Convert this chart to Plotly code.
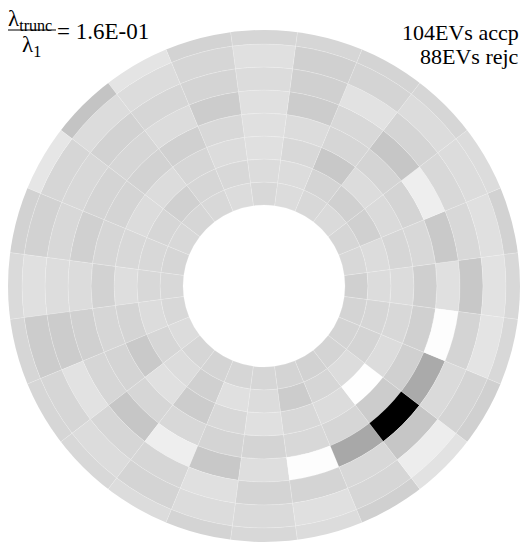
import plotly.graph_objects as go

# ---- data: gray intensity (0 = black, 255 = white) per cell, 24 sectors per ring ----
sector_deg = [j * 15 for j in range(24)]
ring_inner = [81, 104, 127, 150, 173, 196, 219, 242]
ring_width = 23

ring0 = [208, 216, 214, 218, 216, 220, 216, 220, 216, 214, 216, 214, 216, 216, 220, 214, 212, 214, 214, 212, 210, 212, 212, 212]
ring1 = [220, 220, 208, 208, 212, 220, 220, 216, 214, 208, 214, 216, 216, 220, 214, 220, 208, 224, 220, 204, 214, 220, 212, 214]
ring2 = [220, 214, 218, 220, 200, 216, 224, 220, 214, 220, 220, 216, 222, 212, 201, 224, 204, 216, 224, 216, 220, 254, 220, 216]
ring3 = [207, 216, 212, 212, 214, 220, 224, 216, 208, 210, 212, 214, 210, 214, 212, 214, 216, 212, 212, 216, 214, 204, 208, 208]
ring4 = [224, 201, 238, 198, 216, 204, 224, 204, 220, 214, 212, 208, 220, 208, 214, 198, 238, 200, 222, 253, 168, 0, 170, 253]
ring5 = [200, 216, 216, 212, 226, 208, 220, 212, 214, 210, 216, 216, 221, 204, 226, 214, 214, 224, 212, 212, 216, 198, 218, 212]
ring6 = [226, 224, 220, 220, 212, 208, 224, 214, 220, 220, 214, 210, 224, 204, 214, 220, 212, 220, 218, 224, 214, 237, 212, 228]
ring7 = [216, 210, 220, 214, 212, 214, 214, 211, 228, 196, 230, 210, 218, 214, 214, 216, 220, 212, 216, 220, 208, 226, 208, 216]
rings = [ring0, ring1, ring2, ring3, ring4, ring5, ring6, ring7]

label_ratio = "1.6E-01"
label_acc = "104EVs accp"
label_rej = "88EVs rejc"

fig = go.Figure()
for base, vals in zip(ring_inner, rings):
    fig.add_trace(go.Barpolar(
        r=[ring_width] * len(vals),
        base=[base] * len(vals),
        theta=sector_deg,
        width=[15] * len(vals),
        marker=dict(
            color=vals,
            colorscale=[[0, "rgb(0,0,0)"], [1, "rgb(255,255,255)"]],
            cmin=0, cmax=255,
            line=dict(color="rgba(255,255,255,0.35)", width=0.5),
        ),
        showlegend=False,
        hoverinfo="skip",
    ))

W, H = 521, 542


def px(x):
    return x / W


def py(y):
    return 1 - y / H


serif = "Liberation Serif, Times New Roman, serif"
fig.update_layout(
    width=W, height=H,
    margin=dict(l=0, r=0, t=0, b=0),
    paper_bgcolor="white",
    plot_bgcolor="white",
    polar=dict(
        domain=dict(x=[px(8), px(520)], y=[py(542), py(30)]),
        bgcolor="white",
        radialaxis=dict(range=[0, 256], visible=False, showgrid=False),
        angularaxis=dict(visible=False, showgrid=False, rotation=0, direction="counterclockwise"),
        bargap=0,
    ),
    font=dict(family=serif, color="black"),
)

# fraction lambda_trunc / lambda_1
fig.add_annotation(x=px(6), y=py(4), xref="paper", yref="paper", xanchor="left", yanchor="top",
                   text="λ<sub>trunc</sub>", showarrow=False,
                   font=dict(family=serif, size=23, color="black"))
fig.add_shape(type="line", x0=px(8), x1=px(56), y0=py(30), y1=py(30),
              xref="paper", yref="paper", line=dict(color="black", width=1.2))
fig.add_annotation(x=px(20), y=py(30), xref="paper", yref="paper", xanchor="left", yanchor="top",
                   text="λ<sub>1</sub>", showarrow=False,
                   font=dict(family=serif, size=23, color="black"))
fig.add_annotation(x=px(55), y=py(17), xref="paper", yref="paper", xanchor="left", yanchor="top",
                   text="= " + label_ratio, showarrow=False,
                   font=dict(family=serif, size=23, color="black"))
fig.add_annotation(x=px(521), y=py(18), xref="paper", yref="paper", xanchor="right", yanchor="top",
                   text=label_acc, showarrow=False, font=dict(family=serif, size=22, color="black"))
fig.add_annotation(x=px(521), y=py(42), xref="paper", yref="paper", xanchor="right", yanchor="top",
                   text=label_rej, showarrow=False, font=dict(family=serif, size=22, color="black"))

fig.write_html(
    "out.html",
    config={"displayModeBar": False, "staticPlot": True},
    post_script="document.body.style.margin='0';document.body.style.overflow='hidden';",
)
